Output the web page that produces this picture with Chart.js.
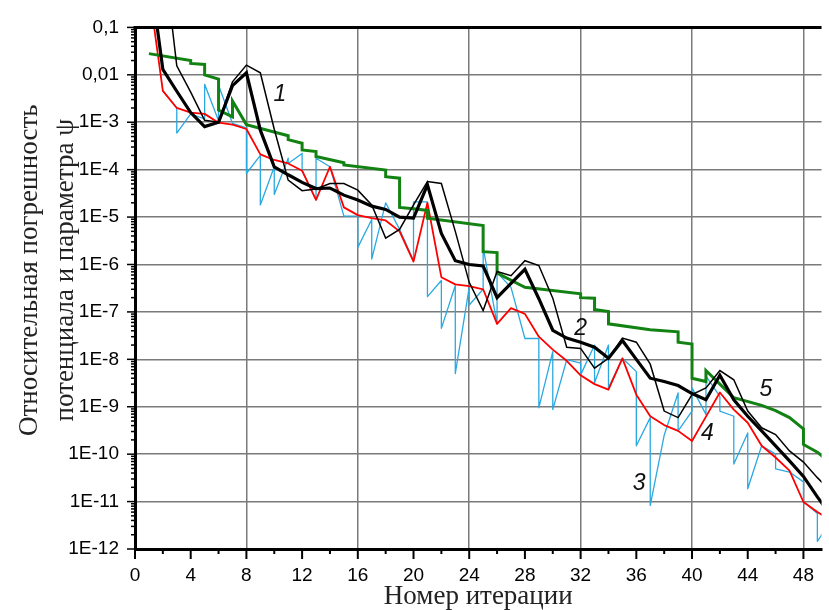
<!DOCTYPE html>
<html>
<head>
<meta charset="utf-8">
<script src="https://cdn.jsdelivr.net/npm/chart.js@4.4.1/dist/chart.umd.min.js"></script>
<style>
  html, body { margin: 0; padding: 0; background: #fff; }
  canvas { display: block; }
</style>
</head>
<body>
<canvas id="errorChart" width="829" height="610"></canvas>
<script>
// iteration numbers for the red and black curves
const iterations = [1, 2, 3, 4, 5, 6, 7, 8, 9, 10, 11, 12, 13, 14, 15, 16, 17, 18, 19, 20,
    21, 22, 23, 24, 25, 26, 27, 28, 29, 30, 31, 32, 33, 34, 35, 36, 37, 38, 39, 40,
    41, 42, 43, 44, 45, 46, 47, 48, 49, 50];

// curve 1 (thin black)
const curve1 = [30, 5, 1.55e-2, 4.3e-3, 1.1e-3, 1.0e-3, 7.1e-3, 1.6e-2, 1.1e-2, 7.1e-4,
    6.0e-5, 3.6e-5, 3.9e-5, 5.1e-5, 5.1e-5, 3.7e-5, 1.8e-5, 3.6e-6, 5.5e-6, 1.8e-5,
    5.6e-5, 5.1e-5, 5.0e-6, 4.2e-7, 1.07e-7, 7.1e-7, 5.8e-7, 1.2e-6, 9.5e-7, 1.95e-7,
    1.8e-8, 1.7e-8, 6.5e-9, 1.05e-8, 2.8e-8, 2.3e-8, 7.9e-9, 8.1e-10, 5.9e-10, 1.8e-9,
    2.5e-9, 5.8e-9, 3.7e-9, 8.1e-10, 3.6e-10, 2.6e-10, 1.17e-10, 6.8e-11, 3.2e-11, 1.6e-11];

// curve 2 (thick black)
const curve2 = [2.0, 1.3e-2, 4.5e-3, 1.6e-3, 8.1e-4, 1.0e-3, 5.9e-3, 1.1e-2, 6.8e-4, 1.15e-4,
    7.8e-5, 5.4e-5, 4.0e-5, 4.1e-5, 2.9e-5, 2.3e-5, 1.7e-5, 1.45e-5, 1.0e-5, 9.5e-6,
    4.8e-5, 4.5e-6, 1.2e-6, 1.0e-6, 9.3e-7, 2.0e-7, 4.0e-7, 7.9e-7, 1.9e-7, 4.1e-8,
    2.8e-8, 2.3e-8, 1.8e-8, 1.05e-8, 2.5e-8, 1.0e-8, 4.0e-9, 3.4e-9, 2.8e-9, 1.9e-9,
    1.4e-9, 4.6e-9, 1.4e-9, 6.3e-10, 3.1e-10, 1.5e-10, 7.2e-11, 3.4e-11, 1.26e-11, 5.0e-12];

// curve 4 (red)
const curve4 = [0.63, 4.6e-3, 2.0e-3, 1.6e-3, 1.5e-3, 9.8e-4, 8.9e-4, 7.2e-4, 2.1e-4, 1.6e-4,
    1.35e-4, 9.5e-5, 2.3e-5, 1.15e-4, 1.6e-5, 1.1e-5, 9.5e-6, 8.5e-6, 5.0e-6, 1.15e-6,
    2.0e-5, 5.4e-7, 3.8e-7, 3.5e-7, 3.0e-7, 5.6e-8, 1.2e-7, 9.1e-8, 3.0e-8, 1.6e-8,
    9.3e-9, 4.6e-9, 3.0e-9, 2.3e-9, 1.05e-8, 1.8e-9, 6.3e-10, 4.1e-10, 3.1e-10, 1.9e-10,
    6.2e-10, 2.0e-9, 8.7e-10, 4.6e-10, 1.5e-10, 8.5e-11, 4.5e-11, 9.8e-12, 6.0e-12, 4.0e-12];

// curve 3 (light blue, sub-iterations, drops at each iteration)
const curve3X = [2, 3, 3, 4, 5, 5, 6, 6, 7, 8, 8, 9, 9, 10, 10, 11, 11, 12, 12, 13,
    13, 14, 15, 16, 16, 17, 17, 18, 19, 20, 20, 21, 21, 22, 22, 23, 23, 24, 24, 25,
    25, 26, 26, 27, 28, 29, 29, 30, 30, 31, 32, 32, 33, 33, 34, 34, 35, 36, 36, 37,
    37, 38, 39, 39, 40, 40, 41, 41, 42, 42, 43, 43, 44, 44, 45, 46, 46, 47, 48, 48,
    49, 49, 50];
const curve3Y = [4.6e-3, 2.0e-3, 5.9e-4, 1.5e-3, 1.17e-3, 6.3e-3, 1.07e-3, 6.0e-3, 9.5e-4, 7.6e-4,
    8.3e-5, 2.0e-4, 1.8e-5, 1.15e-4, 3.0e-5, 1.74e-4, 1.35e-4, 2.2e-4, 9.5e-5, 2.3e-5,
    1.74e-4, 1.15e-4, 1.05e-5, 1.05e-5, 2.3e-6, 8.9e-6, 1.3e-6, 2.0e-5, 5.5e-6, 1.2e-6,
    2.1e-5, 2.1e-5, 2.1e-7, 4.6e-7, 4.5e-8, 3.6e-7, 5.0e-9, 3.3e-7, 1.4e-7, 3.0e-7,
    2.3e-6, 5.6e-8, 6.8e-7, 3.3e-7, 2.75e-8, 2.75e-8, 9.5e-10, 1.45e-8, 8.7e-10, 9.8e-9,
    8.3e-9, 4.7e-9, 2.0e-8, 3.2e-9, 2.0e-8, 2.5e-9, 1.05e-8, 5.5e-9, 1.5e-10, 5.9e-10,
    8.3e-12, 2.5e-10, 1.95e-9, 3.1e-10, 8.1e-10, 2.5e-9, 6.9e-10, 4.4e-9, 1.66e-9, 8.1e-10,
    6.3e-10, 6.2e-11, 2.8e-10, 1.86e-11, 1.5e-10, 1.0e-10, 4.9e-11, 4.2e-11, 2.6e-11, 1.0e-11,
    5.6e-12, 1.45e-12, 4.0e-12];

// curve 5 (green, stepped)
const curve5X = [1, 4, 4, 5, 5, 6, 6, 7, 7, 8, 11, 11, 12, 12, 13, 13, 15, 15, 18, 18,
    19, 19, 20, 21, 21, 25, 25, 26, 26, 28, 32, 32, 33, 33, 34, 34, 37, 39, 39, 40,
    40, 41, 41, 42, 43, 45, 46, 47, 48, 48, 49, 50];
const curve5Y = [2.8e-2, 2.0e-2, 1.74e-2, 1.66e-2, 1.0e-2, 8.1e-3, 1.8e-3, 1.3e-3, 2.8e-3, 8.9e-4,
    5.2e-4, 4.3e-4, 3.6e-4, 2.6e-4, 2.4e-4, 1.9e-4, 1.4e-4, 1.26e-4, 9.8e-5, 7.1e-5,
    6.6e-5, 1.6e-5, 1.5e-5, 1.38e-5, 9.5e-6, 6.6e-6, 1.86e-6, 1.78e-6, 6.6e-7, 3.3e-7,
    2.4e-7, 2.0e-7, 1.95e-7, 1.12e-7, 1.02e-7, 5.6e-8, 4.2e-8, 3.8e-8, 2.3e-8, 2.1e-8,
    4.0e-9, 3.4e-9, 5.8e-9, 3.0e-9, 1.55e-9, 1.07e-9, 8.3e-10, 5.9e-10, 3.4e-10, 1.6e-10,
    1.1e-10, 6.3e-11];

// axis ticks
const xTicks = [0, 2, 4, 6, 8, 10, 12, 14, 16, 18, 20, 22, 24, 26, 28, 30, 32, 34, 36, 38, 40, 42, 44, 46, 48];
const yTickValues = [1e-12, 1e-11, 1e-10, 1e-9, 1e-8, 1e-7, 1e-6, 1e-5, 1e-4, 1e-3, 1e-2, 1e-1];
const yTickLabels = ['1E-12', '1E-11', '1E-10', '1E-9', '1E-8', '1E-7', '1E-6', '1E-5', '1E-4', '1E-3', '0,01', '0,1'];
const yTitleLines = ['Относительная погрешность', 'потенциала и параметра ψ'];

// curve numbers written on the plot
const curveNames = ['1', '2', '3', '4', '5'];
const curveNameAt = [[10.4, 3.9e-3], [32.0, 4.5e-8], [36.2, 2.4e-11], [41.1, 2.7e-10], [45.3, 2.3e-9]];

const toPoints = (xs, ys) => xs.map((x, i) => ({ x: x, y: ys[i] }));

// tick marks, top frame line, y title and curve numbers
const decorPlugin = {
    id: 'decor',
    afterDraw(chart) {
        const { ctx, chartArea } = chart;
        const xs = chart.scales.x;
        const ys = chart.scales.y;
        ctx.save();
        ctx.strokeStyle = '#000';

        ctx.lineWidth = 3;
        ctx.beginPath();
        ctx.moveTo(chartArea.left - 1.5, chartArea.top);
        ctx.lineTo(chartArea.right, chartArea.top);
        ctx.stroke();

        ctx.lineWidth = 2;
        xTicks.forEach(v => {
            const px = xs.getPixelForValue(v);
            const len = v % 4 === 0 ? 10 : 5;
            ctx.beginPath();
            ctx.moveTo(px, chartArea.bottom);
            ctx.lineTo(px, chartArea.bottom + len);
            ctx.stroke();
        });

        ctx.lineWidth = 1.5;
        yTickValues.forEach((v, i) => {
            const py = ys.getPixelForValue(v);
            ctx.beginPath();
            ctx.moveTo(chartArea.left, py);
            ctx.lineTo(chartArea.left - 8, py);
            ctx.stroke();
            if (i < yTickValues.length - 1) {
                for (let k = 2; k <= 9; k++) {
                    const pm = ys.getPixelForValue(v * k);
                    ctx.beginPath();
                    ctx.moveTo(chartArea.left, pm);
                    ctx.lineTo(chartArea.left - 4, pm);
                    ctx.stroke();
                }
            }
        });

        // y axis title, two lines, a bit above the middle like the original
        ctx.fillStyle = '#222';
        ctx.font = '27px "Liberation Serif", "Times New Roman", serif';
        ctx.textAlign = 'center';
        ctx.textBaseline = 'middle';
        const midY = (chartArea.top + chartArea.bottom) / 2 - 18;
        yTitleLines.forEach((line, i) => {
            ctx.save();
            ctx.translate(30 + i * 36, midY);
            ctx.rotate(-Math.PI / 2);
            ctx.fillText(line, 0, 0);
            ctx.restore();
        });

        ctx.fillStyle = '#111';
        ctx.font = 'italic 23px "Liberation Sans", Arial, sans-serif';
        curveNames.forEach((name, i) => {
            const [lx, ly] = curveNameAt[i];
            ctx.fillText(name, xs.getPixelForValue(lx), ys.getPixelForValue(ly));
        });
        ctx.restore();
    }
};

const ctx = document.getElementById('errorChart').getContext('2d');

new Chart(ctx, {
    type: 'line',
    data: {
        datasets: [
            {
                label: '2',
                data: toPoints(iterations, curve2),
                borderColor: '#000000',
                borderWidth: 3.2
            },
            {
                label: '1',
                data: toPoints(iterations, curve1),
                borderColor: '#000000',
                borderWidth: 1.5
            },
            {
                label: '5',
                data: toPoints(curve5X, curve5Y),
                borderColor: '#128212',
                borderWidth: 3
            },
            {
                label: '4',
                data: toPoints(iterations, curve4),
                borderColor: '#ff0000',
                borderWidth: 1.8,
                borderJoinStyle: 'round'
            },
            {
                label: '3',
                data: toPoints(curve3X, curve3Y),
                borderColor: '#2aa9e0',
                borderWidth: 1.3,
                borderJoinStyle: 'round'
            }
        ]
    },
    options: {
        responsive: false,
        animation: false,
        layout: { padding: { top: 23, right: 0, bottom: 0, left: 0 } },
        elements: {
            point: { radius: 0, hoverRadius: 0 },
            line: { tension: 0, fill: false }
        },
        plugins: {
            legend: { display: false },
            tooltip: { enabled: false }
        },
        scales: {
            x: {
                type: 'linear',
                min: 0,
                max: 49.3,
                afterBuildTicks: scale => { scale.ticks = xTicks.map(v => ({ value: v })); },
                afterFit: scale => { scale.height = 61; },
                ticks: {
                    autoSkip: false,
                    maxRotation: 0,
                    includeBounds: false,
                    padding: 15,
                    color: '#000',
                    font: { family: '"Liberation Sans", Arial, sans-serif', size: 19 },
                    callback: v => (v % 4 === 0 ? String(v) : '')
                },
                grid: {
                    drawTicks: false,
                    lineWidth: 1.5,
                    color: c => (c.tick && c.tick.value > 0 && c.tick.value % 8 === 0 ? '#7a7a7a' : 'rgba(0,0,0,0)')
                },
                border: { display: true, color: '#000', width: 3 },
                title: {
                    display: true,
                    text: 'Номер итерации',
                    color: '#222',
                    padding: { top: 0, bottom: 0 },
                    font: { family: '"Liberation Serif", "Times New Roman", serif', size: 27, lineHeight: 1 }
                }
            },
            y: {
                type: 'logarithmic',
                min: 1e-12,
                max: 0.1,
                afterBuildTicks: scale => { scale.ticks = yTickValues.map(v => ({ value: v })); },
                afterFit: scale => { scale.width = 135; },
                ticks: {
                    autoSkip: false,
                    padding: 16,
                    color: '#000',
                    font: { family: '"Liberation Sans", Arial, sans-serif', size: 19 },
                    callback: (v, i) => yTickLabels[i]
                },
                grid: {
                    drawTicks: false,
                    lineWidth: 1.5,
                    color: c => (c.tick && c.tick.value > 1.5e-12 && c.tick.value < 0.09 ? '#7a7a7a' : 'rgba(0,0,0,0)')
                },
                border: { display: true, color: '#000', width: 3 },
                title: { display: false }
            }
        }
    },
    plugins: [decorPlugin]
});
</script>
</body>
</html>
